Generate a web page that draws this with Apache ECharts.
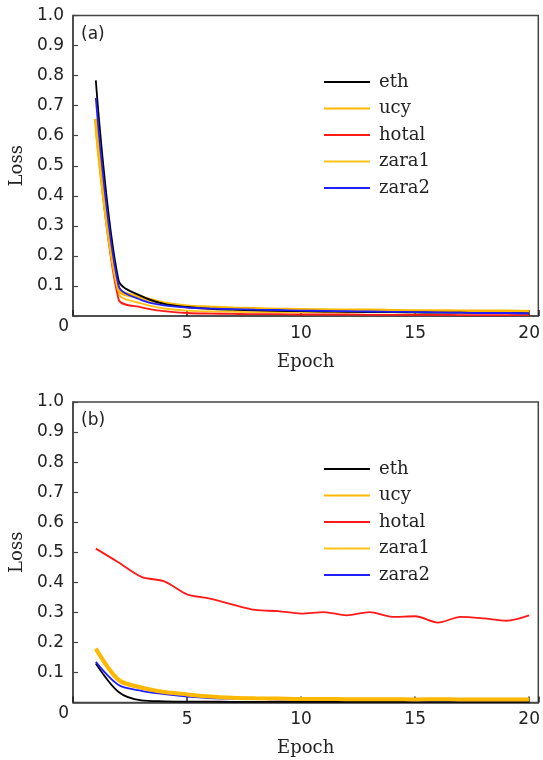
<!DOCTYPE html>
<html>
<head>
<meta charset="utf-8">
<script src="https://cdn.jsdelivr.net/npm/echarts@6/dist/echarts.min.js"></script>
<style>
  html, body { margin: 0; padding: 0; background: #fff; }
  #chart { width: 543px; height: 760px; }
</style>
</head>
<body>
<div id="chart"></div>
<script>
// epochs on the x axis
var epochs = [1, 2, 3, 4, 5, 6, 7, 8, 9, 10, 11, 12, 13, 14, 15, 16, 17, 18, 19, 20];
var names = ['eth', 'ucy', 'hotal', 'zara1', 'zara2'];
var xTicks = [5, 10, 15, 20];

// panel (a)
var ethA   = [0.784, 0.118, 0.066, 0.040, 0.030, 0.024, 0.021, 0.019, 0.017, 0.016, 0.015, 0.014, 0.013, 0.013, 0.012, 0.011, 0.011, 0.010, 0.010, 0.009];
var ucyA   = [0.656, 0.090, 0.062, 0.042, 0.032, 0.028, 0.025, 0.023, 0.021, 0.020, 0.019, 0.018, 0.018, 0.017, 0.016, 0.016, 0.015, 0.015, 0.015, 0.014];
var hotalA = [0.646, 0.055, 0.029, 0.016, 0.010, 0.008, 0.007, 0.006, 0.006, 0.005, 0.005, 0.005, 0.004, 0.004, 0.004, 0.004, 0.003, 0.003, 0.003, 0.003];
var zara1A = [0.620, 0.075, 0.042, 0.025, 0.018, 0.015, 0.014, 0.013, 0.013, 0.012, 0.012, 0.012, 0.012, 0.012, 0.012, 0.012, 0.012, 0.012, 0.012, 0.012];
var zara2A = [0.726, 0.100, 0.053, 0.035, 0.028, 0.025, 0.023, 0.021, 0.020, 0.018, 0.017, 0.016, 0.015, 0.014, 0.013, 0.012, 0.011, 0.010, 0.010, 0.009];

// panel (b)
var ethB   = [0.130, 0.035, 0.007, 0.004, 0.003, 0.003, 0.002, 0.002, 0.002, 0.002, 0.002, 0.002, 0.002, 0.002, 0.002, 0.002, 0.002, 0.002, 0.002, 0.002];
var ucyB   = [0.180, 0.076, 0.050, 0.035, 0.027, 0.020, 0.016, 0.014, 0.013, 0.012, 0.012, 0.011, 0.011, 0.011, 0.010, 0.011, 0.010, 0.010, 0.010, 0.010];
var hotalB = [0.512, 0.466, 0.418, 0.403, 0.360, 0.346, 0.326, 0.308, 0.304, 0.296, 0.301, 0.290, 0.301, 0.285, 0.287, 0.266, 0.285, 0.280, 0.272, 0.290];
var zara1B = [0.172, 0.070, 0.046, 0.032, 0.024, 0.018, 0.015, 0.013, 0.012, 0.012, 0.011, 0.011, 0.011, 0.010, 0.010, 0.011, 0.010, 0.010, 0.010, 0.010];
var zara2B = [0.135, 0.058, 0.039, 0.028, 0.020, 0.015, 0.013, 0.012, 0.010, 0.011, 0.009, 0.009, 0.008, 0.009, 0.007, 0.007, 0.007, 0.007, 0.007, 0.007];

var colors = { eth: '#000000', ucy: '#ffb800', hotal: '#ff1a1a', zara1: '#ffc21a', zara2: '#2020ff' };
var widths = { eth: 1.8, ucy: 4, hotal: 1.8, zara1: 1.8, zara2: 1.8 };

var sans = 'DejaVu Sans';
var serif = 'DejaVu Serif';
var axisColor = '#444';

function pairs(arr) {
    return epochs.map(function (e, i) { return [e, arr[i]]; });
}

function makeX(idx) {
    return {
        type: 'value', gridIndex: idx, min: 0, max: 20.4, interval: 5,
        name: 'Epoch', nameLocation: 'middle', nameGap: 37,
        nameTextStyle: { fontFamily: serif, fontSize: 18, color: '#222' },
        axisLine: { show: true, lineStyle: { color: axisColor, width: 1.5 } },
        axisTick: { show: true, inside: true, length: 6, lineStyle: { color: '#222', width: 1.5 } },
        axisLabel: {
            fontFamily: sans, fontSize: 17, color: '#222', margin: 9,
            formatter: function (v) { return xTicks.indexOf(v) >= 0 ? String(v) : ''; }
        },
        splitLine: { show: false }
    };
}

function makeY(idx) {
    return {
        type: 'value', gridIndex: idx, min: 0, max: 1, interval: 0.1,
        name: 'Loss', nameLocation: 'middle', nameGap: 45,
        nameTextStyle: { fontFamily: serif, fontSize: 18, color: '#222' },
        axisLine: { show: true, lineStyle: { color: axisColor, width: 1.5 } },
        axisTick: { show: true, inside: true, length: 5, lineStyle: { color: axisColor, width: 1.2 } },
        axisLabel: {
            fontFamily: sans, fontSize: 17, color: '#222', margin: 4,
            formatter: function (v) {
                return v === 0 ? '{z|0}' : '{n|' + v.toFixed(1) + '}';
            },
            rich: {
                z: { padding: [22, 0, 0, 0] },
                n: { padding: [0, 5, 0, 0] }
            }
        },
        splitLine: { show: false }
    };
}

function makeLegend(top) {
    return {
        orient: 'vertical', left: 323, top: top, padding: 0,
        itemWidth: 46, itemHeight: 14, itemGap: 6.5,
        data: names,
        itemStyle: { opacity: 0 },
        textStyle: { fontFamily: serif, fontSize: 18, color: '#222', lineHeight: 20, padding: [0, 0, 0, 4] }
    };
}

function line(name, arr, idx) {
    return {
        name: name, type: 'line', xAxisIndex: idx, yAxisIndex: idx,
        data: pairs(arr), showSymbol: false, symbol: 'none',
        smooth: 0.3, color: colors[name],
        lineStyle: { color: colors[name], width: widths[name] },
        animation: false
    };
}

var chart = echarts.init(document.getElementById('chart'));
chart.setOption({
    backgroundColor: '#fff',
    animation: false,
    title: [
        { text: '(a)', left: 76, top: 21, textStyle: { fontFamily: sans, fontSize: 17, fontWeight: 'normal', color: '#222' } },
        { text: '(b)', left: 76, top: 407, textStyle: { fontFamily: sans, fontSize: 17, fontWeight: 'normal', color: '#222' } }
    ],
    legend: [makeLegend(72), makeLegend(459)],
    grid: [
        { left: 73, top: 15.5, width: 468.5, height: 300.5, show: true, borderColor: axisColor, borderWidth: 1.5 },
        { left: 73, top: 402, width: 468.5, height: 300.5, show: true, borderColor: axisColor, borderWidth: 1.5 }
    ],
    xAxis: [makeX(0), makeX(1)],
    yAxis: [makeY(0), makeY(1)],
    series: [
        line('zara1', zara1A, 0),
        line('hotal', hotalA, 0),
        line('ucy', ucyA, 0),
        line('eth', ethA, 0),
        line('zara2', zara2A, 0),
        line('zara1', zara1B, 1),
        line('eth', ethB, 1),
        line('zara2', zara2B, 1),
        line('ucy', ucyB, 1),
        line('hotal', hotalB, 1)
    ]
});
</script>
</body>
</html>
